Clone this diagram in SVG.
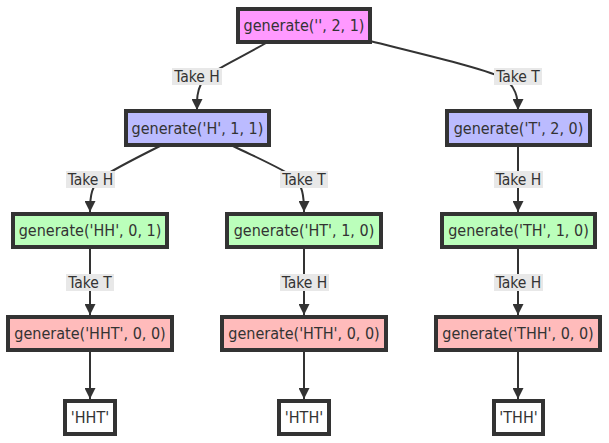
<svg xmlns="http://www.w3.org/2000/svg" width="609" height="443" viewBox="0 0 609 443">
<style>
  text { font-family: "DejaVu Sans Condensed", "DejaVu Sans", "Liberation Sans", sans-serif; font-stretch: condensed; font-size: 16px; fill: #333; text-anchor: middle; }
  .node rect { stroke: #333; stroke-width: 4; }
  .l1 rect { fill: #ff99ff; }
  .l2 rect { fill: #bbbbff; }
  .l3 rect { fill: #bbffbb; }
  .l4 rect { fill: #ffbbbb; }
  .leaf rect { fill: #ffffff; }
  .edge { fill: none; stroke: #333; stroke-width: 2; marker-end: url(#arrow); }
  .lbl rect { fill: #e8e8e8; }
  .lbl text { font-size: 15.5px; }
</style>
<defs>
  <marker id="arrow" viewBox="0 0 10 10" refX="10" refY="5" markerWidth="11" markerHeight="11" markerUnits="userSpaceOnUse" orient="auto">
    <path d="M0,0 L10,5 L0,10 z" fill="#333"/>
  </marker>
</defs>
<rect width="609" height="443" fill="#ffffff"/>
<g id="connectors">
  <path class="edge" d="M266,43 C235,61 207,72 201,84 C197,92 197,98 197,110"/>
  <path class="edge" d="M370,41 C430,56 490,70 505,79 C515,87 518,96 518,110"/>
  <path class="edge" d="M160,146 C132,160 112,170 101,178 C92,186 90,194 90,212"/>
  <path class="edge" d="M233,146 C262,160 285,170 295,178 C302,186 304,194 304,212"/>
  <path class="edge" d="M518,147 L518,212"/>
  <path class="edge" d="M90,249 L90,315"/>
  <path class="edge" d="M304,249 L304,315"/>
  <path class="edge" d="M518,249 L518,315"/>
  <path class="edge" d="M90,352 L90,399"/>
  <path class="edge" d="M304,352 L304,399"/>
  <path class="edge" d="M518,352 L518,399"/>
  <g class="lbl">
    <rect x="172" y="68" width="50" height="17"/><text x="197" y="82">Take H</text>
    <rect x="494" y="68" width="48" height="17"/><text x="518" y="82">Take T</text>
    <rect x="66" y="171" width="49" height="17"/><text x="90.5" y="185">Take H</text>
    <rect x="280" y="171" width="48" height="17"/><text x="304" y="185">Take T</text>
    <rect x="494" y="171" width="49" height="17"/><text x="518.5" y="185">Take H</text>
    <rect x="66" y="274" width="48" height="17"/><text x="90" y="288">Take T</text>
    <rect x="280" y="274" width="49" height="17"/><text x="304.5" y="288">Take H</text>
    <rect x="494" y="274" width="49" height="17"/><text x="518.5" y="288">Take H</text>
  </g>
</g>
<g id="n_root" class="node l1"><rect x="238" y="9" width="132" height="33"/><text x="304" y="31">generate('', 2, 1)</text></g>
<g id="n_H" class="node l2"><rect x="126" y="111" width="143" height="34"/><text x="197.5" y="134">generate('H', 1, 1)</text></g>
<g id="n_T" class="node l2"><rect x="447" y="111" width="143" height="34"/><text x="518.5" y="134">generate('T', 2, 0)</text></g>
<g id="n_HH" class="node l3"><rect x="13" y="214" width="154" height="33"/><text x="90" y="236">generate('HH', 0, 1)</text></g>
<g id="n_HT" class="node l3"><rect x="227" y="214" width="154" height="33"/><text x="304" y="236">generate('HT', 1, 0)</text></g>
<g id="n_TH" class="node l3"><rect x="442" y="214" width="153" height="33"/><text x="518.5" y="236">generate('TH', 1, 0)</text></g>
<g id="n_HHT" class="node l4"><rect x="8" y="317" width="164" height="33"/><text x="90" y="339">generate('HHT', 0, 0)</text></g>
<g id="n_HTH" class="node l4"><rect x="222" y="317" width="164" height="33"/><text x="304" y="339">generate('HTH', 0, 0)</text></g>
<g id="n_THH" class="node l4"><rect x="436" y="317" width="164" height="33"/><text x="518" y="339">generate('THH', 0, 0)</text></g>
<g id="n_rHHT" class="node leaf"><rect x="65" y="401" width="50" height="33"/><text x="90" y="423">'HHT'</text></g>
<g id="n_rHTH" class="node leaf"><rect x="279" y="401" width="50" height="33"/><text x="304" y="423">'HTH'</text></g>
<g id="n_rTHH" class="node leaf"><rect x="494" y="401" width="49" height="33"/><text x="518.5" y="423">'THH'</text></g>
</svg>
